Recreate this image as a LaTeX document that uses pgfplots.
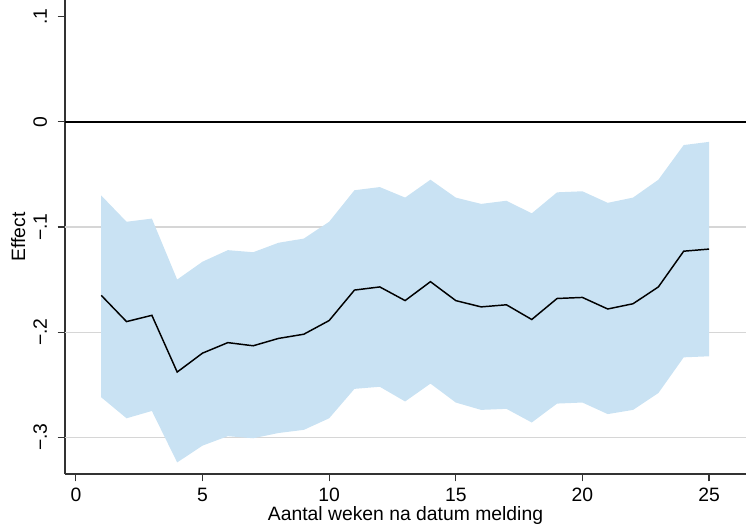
\documentclass[border=0pt]{standalone}
\usepackage{pgfplots}
\pgfplotsset{compat=1.18}
\usepackage{fontspec}
\setmainfont{Liberation Sans}
\definecolor{cifill}{HTML}{C9E2F3}
\definecolor{gridc}{HTML}{D6D6D6}

\begin{document}
\fontsize{14.5}{17}\selectfont
\begin{tikzpicture}
\begin{axis}[name=ax,
  width=510.75pt,height=355.5pt,scale only axis,
  xmin=-0.43,xmax=26.46,ymin=-0.335,ymax=0.116,
  axis lines*=left,axis line style={black!80,line width=0.8pt},
  xtick={0,5,...,25},
  ytick={-0.3,-0.2,-0.1,0,0.1},
  yticklabels={−.3,−.2,−.1,0,.1},
  yticklabel style={rotate=90,anchor=south,yshift=3pt},
  tick style={black!80,line width=0.8pt},
  tick align=outside,major tick length=5.5pt,
  /pgf/number format/assume math mode=true,
  ticklabel style={font=\fontsize{14.5}{17}\selectfont},
  ylabel={Effect},xlabel={Aantal weken na datum melding},
  ylabel style={at={(axis description cs:0,0.5)},anchor=center,yshift=35pt},
  xlabel style={at={(axis description cs:0.5,0)},anchor=center,yshift=-31pt},
  label style={font=\fontsize{14.5}{17}\selectfont},
  extra y ticks={-0.3,-0.2,-0.1},
  extra y tick labels={},
  extra y tick style={major tick length=0pt,grid=major,grid style={gridc,line width=0.8pt}},
]
\addplot[fill=cifill,draw=none] coordinates {
(1,-0.070) (2,-0.095) (3,-0.092) (4,-0.150) (5,-0.133) (6,-0.122) (7,-0.124)
(8,-0.115) (9,-0.111) (10,-0.095) (11,-0.065) (12,-0.062) (13,-0.072) (14,-0.055)
(15,-0.072) (16,-0.078) (17,-0.075) (18,-0.087) (19,-0.067) (20,-0.066) (21,-0.077)
(22,-0.072) (23,-0.055) (24,-0.022) (25,-0.019)
(25,-0.223) (24,-0.224) (23,-0.258) (22,-0.274) (21,-0.278) (20,-0.267) (19,-0.268)
(18,-0.286) (17,-0.273) (16,-0.274) (15,-0.267) (14,-0.249) (13,-0.266) (12,-0.252)
(11,-0.254) (10,-0.282) (9,-0.293) (8,-0.296) (7,-0.301) (6,-0.299) (5,-0.308)
(4,-0.324) (3,-0.275) (2,-0.282) (1,-0.262)
} -- cycle;
\addplot[black,line width=1pt] coordinates {(-0.43,0) (26.46,0)};
\addplot[black,line width=1.1pt] coordinates {
(1,-0.165) (2,-0.190) (3,-0.184) (4,-0.238) (5,-0.220) (6,-0.210) (7,-0.213)
(8,-0.206) (9,-0.202) (10,-0.189) (11,-0.160) (12,-0.157) (13,-0.170) (14,-0.152)
(15,-0.170) (16,-0.176) (17,-0.174) (18,-0.188) (19,-0.168) (20,-0.167) (21,-0.178)
(22,-0.173) (23,-0.157) (24,-0.123) (25,-0.121)
};
\end{axis}
\pgfresetboundingbox
\path ([xshift=-48.75pt,yshift=-40.5pt]ax.south west) rectangle ([xshift=2.25pt]ax.north east);
\end{tikzpicture}
\end{document}
